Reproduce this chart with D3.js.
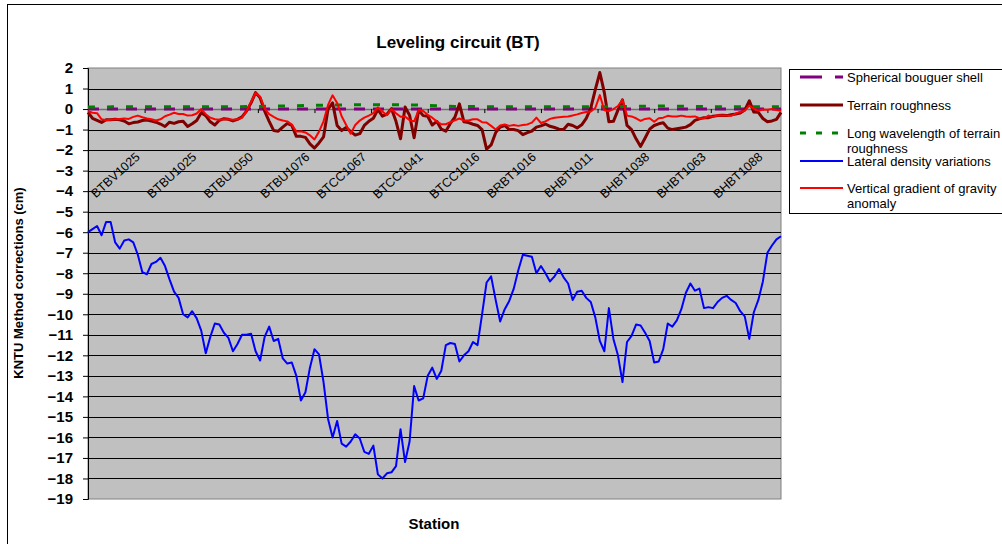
<!DOCTYPE html>
<html lang="en">
<head>
<meta charset="UTF-8">
<title>Leveling circuit (BT)</title>
<script src="https://cdn.jsdelivr.net/npm/d3@7"></script>
<style>
	body { margin: 0; background: #fff; }
	text { font-family: "Liberation Sans", Arial, sans-serif; }
</style>
</head>
<body>
<script>
// station axis: 306 intervals, tick every 25 stations
var stationCount = 306;
var tickEvery = 25;
var lineStep = 2;     // terrain / lateral / vertical sampled every 2 stations
var smoothStep = 18;  // shell / long wavelength sampled every 18 stations

var stationLabels = ["BTBV1025", "BTBU1025", "BTBU1050", "BTBU1076", "BTCC1067", "BTCC1041",
	"BTCC1016", "BRBT1016", "BHBT1011", "BHBT1038", "BHBT1063", "BHBT1088"];

var yTicks = d3.range(-19, 3);

var sphericalShell = [0, 0, 0, 0, 0, 0, 0, 0, 0, 0, 0, 0, 0, 0, 0, 0, 0, 0];

var longWavelength = [0.1, 0.11, 0.11, 0.11, 0.12, 0.16, 0.2, 0.21, 0.2, 0.13, 0.11, 0.11,
	0.11, 0.12, 0.15, 0.12, 0.11, 0.11];

var terrainRoughness = [
	-0.16, -0.45, -0.55, -0.65, -0.52, -0.52, -0.5, -0.52, -0.58, -0.72,
	-0.66, -0.63, -0.56, -0.53, -0.58, -0.64, -0.73, -0.85, -0.64, -0.7,
	-0.62, -0.6, -0.85, -0.72, -0.56, -0.18, -0.32, -0.62, -0.78, -0.55,
	-0.47, -0.5, -0.58, -0.5, -0.38, -0.1, 0.3, 0.8, 0.55, -0.1,
	-0.6, -1.05, -1.08, -0.88, -0.7, -0.8, -1.33, -1.33, -1.38, -1.7,
	-1.9, -1.65, -1.36, 0.0, 0.3, -0.8, -1.05, -0.9, -1.1, -1.27,
	-1.2, -0.8, -0.6, -0.45, -0.02, -0.35, -0.25, 0.02, -0.6, -1.45,
	0.1, -0.3, -1.4, -0.05, -0.32, -0.35, -0.78, -0.6, -0.98, -1.08,
	-0.7, -0.4, 0.25, -0.62, -0.66, -0.74, -0.8, -1.0, -1.95, -1.75,
	-1.15, -0.88, -0.8, -1.0, -1.0, -1.05, -1.25, -1.15, -1.07, -0.88,
	-0.82, -0.73, -0.84, -0.9, -0.98, -1.0, -0.74, -0.8, -0.92, -0.77,
	-0.45, 0.05, 0.95, 1.78, 0.8, -0.62, -0.6, -0.05, 0.45, -0.8,
	-1.0, -1.45, -1.82, -1.41, -0.98, -0.8, -0.72, -0.67, -0.93, -1.0,
	-0.96, -0.92, -0.88, -0.76, -0.55, -0.48, -0.42, -0.42, -0.35, -0.32,
	-0.3, -0.32, -0.28, -0.24, -0.19, -0.05, 0.4, -0.15, -0.16, -0.46,
	-0.62, -0.58, -0.5, -0.16
];

var lateralDensity = [
	-6.0, -5.85, -5.7, -6.15, -5.5, -5.5, -6.5, -6.8, -6.4, -6.35,
	-6.5, -7.1, -7.95, -8.05, -7.55, -7.45, -7.25, -7.65, -8.3, -8.9,
	-9.2, -10.0, -10.15, -9.85, -10.2, -10.8, -11.9, -11.1, -10.45, -10.5,
	-10.9, -11.15, -11.8, -11.45, -11.0, -11.0, -10.95, -11.8, -12.25, -11.1,
	-10.6, -11.3, -11.2, -12.15, -12.4, -12.35, -13.0, -14.2, -13.8, -12.6,
	-11.7, -11.95, -13.3, -15.1, -16.0, -15.2, -16.3, -16.45, -16.2, -15.85,
	-16.05, -16.7, -16.8, -16.4, -17.8, -18.0, -17.75, -17.7, -17.4, -15.6,
	-17.2, -16.2, -13.5, -14.2, -14.1, -13.0, -12.6, -13.15, -12.75, -11.5,
	-11.4, -11.45, -12.3, -12.0, -11.8, -11.35, -11.5, -10.0, -8.45, -8.15,
	-9.3, -10.35, -9.75, -9.35, -8.75, -7.85, -7.1, -7.15, -7.2, -8.0,
	-7.65, -8.0, -8.4, -8.15, -7.8, -8.2, -8.5, -9.3, -8.9, -8.85,
	-9.2, -9.4, -10.15, -11.3, -11.8, -9.7, -11.2, -12.0, -13.3, -11.35,
	-11.05, -10.5, -10.55, -10.9, -11.3, -12.35, -12.3, -11.7, -10.45, -10.6,
	-10.3, -9.75, -8.95, -8.5, -8.85, -8.75, -9.7, -9.65, -9.7, -9.4,
	-9.2, -9.1, -9.3, -9.45, -9.85, -10.1, -11.2, -9.9, -9.3, -8.4,
	-7.0, -6.65, -6.35, -6.2
];

var verticalGradient = [
	-0.1, -0.18, -0.2, -0.5, -0.55, -0.52, -0.5, -0.48, -0.46, -0.48,
	-0.38, -0.32, -0.4, -0.46, -0.5, -0.56, -0.5, -0.35, -0.27, -0.18,
	-0.24, -0.24, -0.32, -0.3, -0.22, 0.0, -0.25, -0.42, -0.5, -0.52,
	-0.5, -0.5, -0.52, -0.5, -0.42, -0.1, 0.35, 0.78, 0.6, 0.02,
	-0.25, -0.38, -0.5, -0.56, -0.6, -0.76, -1.1, -1.08, -1.14, -1.28,
	-1.48, -1.1, -0.6, 0.2, 0.67, 0.3, -0.35, -0.78, -1.2, -0.78,
	-0.56, -0.42, -0.32, -0.2, 0.08, -0.12, -0.3, 0.0, -0.2, -0.38,
	-0.36, -0.54, -0.6, -0.05, -0.1, -0.28, -0.42, -0.6, -0.74, -0.74,
	-0.64, -0.55, -0.46, -0.56, -0.56, -0.5, -0.5, -0.64, -0.66, -0.82,
	-1.0, -0.8, -0.75, -0.82, -0.78, -0.82, -0.78, -0.75, -0.66, -0.42,
	-0.68, -0.6, -0.48, -0.42, -0.4, -0.38, -0.36, -0.31, -0.26, -0.19,
	-0.14, -0.12, 0.05, 0.68, -0.06, -0.1, 0.0, 0.15, 0.45, -0.32,
	-0.36, -0.45, -0.58, -0.48, -0.45, -0.62, -0.45, -0.42, -0.33, -0.36,
	-0.36, -0.32, -0.36, -0.38, -0.36, -0.45, -0.46, -0.32, -0.38, -0.3,
	-0.32, -0.32, -0.33, -0.22, -0.14, -0.08, 0.17, 0.02, -0.08, -0.02,
	-0.03, 0.0, -0.05, -0.08
];

var series = [
	{name: "Spherical bouguer shell", values: sphericalShell, step: smoothStep, color: "#800080", width: 3, dash: "11,8", legendDash: "22,13"},
	{name: "Terrain roughness", values: terrainRoughness, step: lineStep, color: "#800000", width: 3, dash: null},
	{name: "Long wavelength of terrain|roughness", values: longWavelength, step: smoothStep, color: "#008000", width: 3, dash: "7,12", legendDash: "6,10"},
	{name: "Lateral density variations", values: lateralDensity, step: lineStep, color: "#0000FF", width: 2, dash: null},
	{name: "Vertical gradient of gravity|anomaly", values: verticalGradient, step: lineStep, color: "#FF0000", width: 2, dash: null}
];

var W = 1002, H = 544;
var plot = {left: 88, top: 68, right: 781, bottom: 499};

var svg = d3.select("body").append("svg")
	.attr("width", W)
	.attr("height", H);

// chart area border
svg.append("rect")
	.attr("x", 7.5).attr("y", 4.5)
	.attr("width", W).attr("height", H)
	.attr("fill", "#fff")
	.attr("stroke", "#000");

var x = d3.scaleLinear().domain([0, stationCount]).range([plot.left, plot.right]);
var y = d3.scaleLinear().domain([-19, 2]).range([plot.bottom, plot.top]);

// plot background
svg.append("rect")
	.attr("x", plot.left).attr("y", plot.top)
	.attr("width", plot.right - plot.left).attr("height", plot.bottom - plot.top)
	.attr("fill", "#C0C0C0")
	.attr("stroke", "#808080");

// gridlines
svg.append("g").selectAll("line")
	.data(yTicks.filter(function (d) { return d > -19 && d < 2 && d !== 0; }))
	.enter().append("line")
	.attr("x1", plot.left).attr("x2", plot.right)
	.attr("y1", function (d) { return Math.round(y(d)) + 0.5; })
	.attr("y2", function (d) { return Math.round(y(d)) + 0.5; })
	.attr("stroke", "#000");

// y axis
var yAxis = svg.append("g")
	.attr("transform", "translate(" + plot.left + ",0)")
	.call(d3.axisLeft(y).tickValues(yTicks).tickSize(5).tickPadding(10).tickFormat(d3.format("d")));
yAxis.selectAll("text")
	.attr("font-size", 15).attr("font-weight", "bold").attr("fill", "#000")
	.style("font-family", "'Liberation Sans', Arial, sans-serif");
yAxis.select(".domain").attr("stroke", "#000");

// x axis at zero
var xTickVals = d3.range(1, stationLabels.length + 1).map(function (k) { return k * tickEvery; });
var xAxis = svg.append("g")
	.attr("transform", "translate(0," + y(0) + ")")
	.call(d3.axisBottom(x).tickValues(xTickVals).tickSize(4).tickSizeOuter(0).tickFormat(""));
xAxis.select(".domain").attr("stroke", "#707070").attr("stroke-width", 1.5);
xAxis.selectAll(".tick line").attr("stroke", "#000");

svg.append("g").selectAll("text")
	.data(stationLabels)
	.enter().append("text")
	.attr("transform", function (d, i) {
		return "translate(" + (x(xTickVals[i]) - 4) + ",158) rotate(-42)";
	})
	.attr("text-anchor", "end")
	.attr("font-size", 12.5)
	.text(function (d) { return d; });

// series lines
var line = d3.line()
	.x(function (d) { return x(d[0]); })
	.y(function (d) { return y(d[1]); });

series.forEach(function (s) {
	var pts = s.values.map(function (v, i) { return [Math.min(i * s.step, stationCount), v]; });
	svg.append("path")
		.datum(pts)
		.attr("fill", "none")
		.attr("stroke", s.color)
		.attr("stroke-width", s.width)
		.attr("stroke-linejoin", "round")
		.attr("stroke-dasharray", s.dash)
		.attr("d", line);
});

// titles
svg.append("text")
	.attr("x", 458).attr("y", 48)
	.attr("text-anchor", "middle")
	.attr("font-size", 17).attr("font-weight", "bold")
	.text("Leveling circuit (BT)");

svg.append("text")
	.attr("x", 434).attr("y", 529)
	.attr("text-anchor", "middle")
	.attr("font-size", 15).attr("font-weight", "bold")
	.text("Station");

svg.append("text")
	.attr("transform", "translate(23,283) rotate(-90)")
	.attr("text-anchor", "middle")
	.attr("font-size", 13).attr("font-weight", "bold")
	.text("KNTU Method corrections (cm)");

// legend
var legend = svg.append("g");
legend.append("rect")
	.attr("x", 789.5).attr("y", 69.5)
	.attr("width", 230).attr("height", 144)
	.attr("fill", "#fff").attr("stroke", "#000");

var legendY = [77, 105, 133, 161, 188];
series.forEach(function (s, i) {
	legend.append("line")
		.attr("x1", 800).attr("x2", 843)
		.attr("y1", legendY[i]).attr("y2", legendY[i])
		.attr("stroke", s.color)
		.attr("stroke-width", s.width)
		.attr("stroke-dasharray", s.legendDash || null);
	var t = legend.append("text")
		.attr("x", 847).attr("y", legendY[i] + 5)
		.attr("font-size", 13);
	s.name.split("|").forEach(function (part, j) {
		t.append("tspan").attr("x", 847).attr("dy", j === 0 ? 0 : 15).text(part);
	});
});
</script>
</body>
</html>
